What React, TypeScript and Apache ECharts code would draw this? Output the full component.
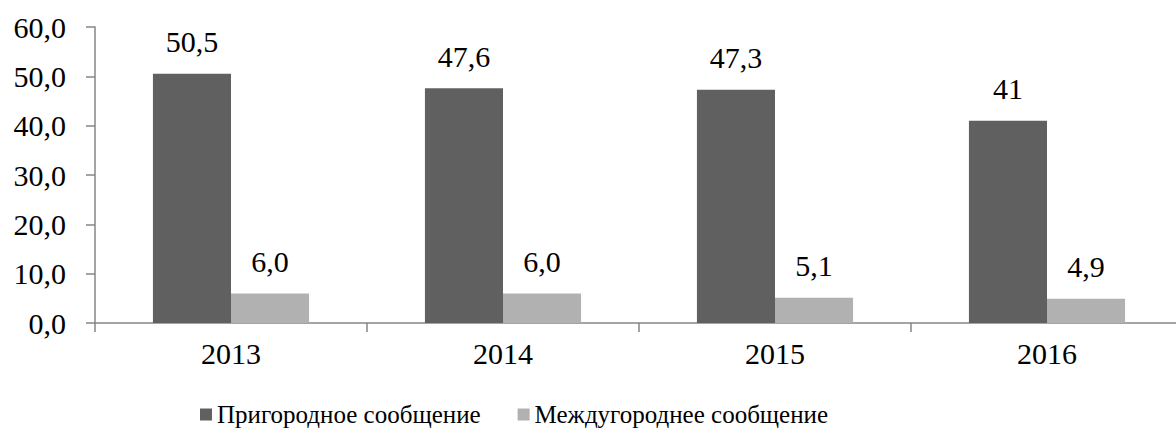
import React, { useEffect, useRef } from "react";
import * as echarts from "echarts";

const categories = ["2013", "2014", "2015", "2016"];
const suburbanValues = [50.5, 47.6, 47.3, 41];
const suburbanLabels = ["50,5", "47,6", "47,3", "41"];
const intercityValues = [6.0, 6.0, 5.1, 4.9];
const intercityLabels = ["6,0", "6,0", "5,1", "4,9"];
const seriesNames = ["Пригородное сообщение", "Междугороднее сообщение"];

const FONT = "Liberation Serif";

export default function App() {
  const ref = useRef<HTMLDivElement>(null);
  useEffect(() => {
    document.body.style.margin = "0";
    const chart = echarts.init(ref.current!, null, { renderer: "svg" });
    const labelStyle = {
      show: true,
      position: "top" as const,
      distance: 17,
      color: "#000",
      fontFamily: FONT,
      fontSize: 30,
    };
    chart.setOption({
      animation: false,
      textStyle: { fontFamily: FONT },
      grid: { left: 95, top: 27, width: 1088, height: 296, outerBoundsMode: "none", containLabel: false },
      legend: {
        top: 397,
        left: 195,
        itemWidth: 12,
        itemHeight: 12,
        itemGap: 37,
        icon: "rect",
        textStyle: { fontFamily: FONT, fontSize: 25, color: "#000" },
        data: seriesNames,
      },
      xAxis: {
        type: "category",
        data: categories,
        axisLine: { lineStyle: { color: "#868686", width: 1.5 } },
        axisTick: { show: true, length: 9, alignWithLabel: false, lineStyle: { color: "#868686", width: 1.5 } },
        axisLabel: { color: "#000", fontFamily: FONT, fontSize: 30, margin: 15 },
      },
      yAxis: {
        type: "value",
        min: 0,
        max: 60,
        interval: 10,
        splitLine: { show: false },
        axisLine: { show: true, lineStyle: { color: "#868686", width: 1.5 } },
        axisTick: { show: true, length: 9, lineStyle: { color: "#868686", width: 1.5 } },
        axisLabel: {
          color: "#000",
          fontFamily: FONT,
          fontSize: 30,
          margin: 29,
          formatter: (v: number) => v.toFixed(1).replace(".", ","),
        },
      },
      series: [
        {
          name: seriesNames[0],
          type: "bar",
          data: suburbanValues,
          itemStyle: { color: "#606060" },
          barGap: "0%",
          barCategoryGap: "42.6%",
          label: { ...labelStyle, formatter: (p: any) => suburbanLabels[p.dataIndex] },
        },
        {
          name: seriesNames[1],
          type: "bar",
          data: intercityValues,
          itemStyle: { color: "#b1b1b1" },
          barGap: "0%",
          barCategoryGap: "42.6%",
          label: { ...labelStyle, formatter: (p: any) => intercityLabels[p.dataIndex] },
        },
      ],
    });
    return () => chart.dispose();
  }, []);
  return <div ref={ref} style={{ width: 1176, height: 436 }} />;
}
